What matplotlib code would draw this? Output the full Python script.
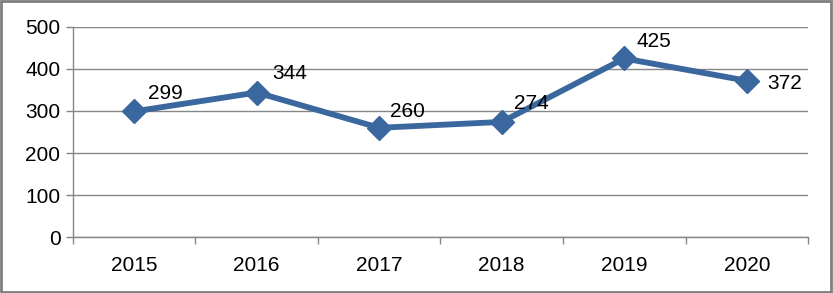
import matplotlib.pyplot as plt
from matplotlib.patches import Rectangle

years = ['2015', '2016', '2017', '2018', '2019', '2020']
values = [299, 344, 260, 274, 425, 372]
# label offsets in points (dx, dy) from each marker
label_offsets = [(10, 13), (11, 14), (8, 12), (9, 13), (9, 12), (15, -2)]

plt.rcParams['font.family'] = ['Liberation Sans', 'DejaVu Sans']

fig = plt.figure(figsize=(8.33, 2.93), dpi=100)
ax = fig.add_axes([0.0876, 0.191, 0.8824, 0.717])

x = range(len(years))
line_color = '#3A679E'
grid_color = '#868686'

ax.plot(x, values, color=line_color, lw=4.2, marker='D', ms=12,
        solid_joinstyle='round', zorder=3)

for i, (v, off) in enumerate(zip(values, label_offsets)):
    ax.annotate(str(v), (i, v), xytext=off, textcoords='offset points',
                ha='left', va='center', fontsize=15, color='black', zorder=4)

ax.set_xlim(-0.5, len(years) - 0.5)
ax.set_ylim(0, 500)
ax.set_yticks([0, 100, 200, 300, 400, 500])
ax.set_xticks(x)
ax.set_xticklabels(years)
ax.set_xticks([i - 0.5 for i in range(len(years) + 1)], minor=True)

ax.tick_params(axis='x', which='major', length=0, pad=14, labelsize=15)
ax.tick_params(axis='x', which='minor', length=5, color=grid_color, width=1)
ax.tick_params(axis='y', length=5, color=grid_color, width=1, pad=4, labelsize=15)

ax.yaxis.grid(True, color=grid_color, lw=1)
ax.set_axisbelow(True)
for side in ['top', 'right']:
    ax.spines[side].set_visible(False)
for side in ['left', 'bottom']:
    ax.spines[side].set_color(grid_color)
    ax.spines[side].set_linewidth(1)

fig.patches.append(Rectangle((0.001, 0.002), 0.997, 0.995, transform=fig.transFigure,
                             fill=False, edgecolor='#7F7F7F', lw=2))

fig.savefig('out.png', dpi=100)
